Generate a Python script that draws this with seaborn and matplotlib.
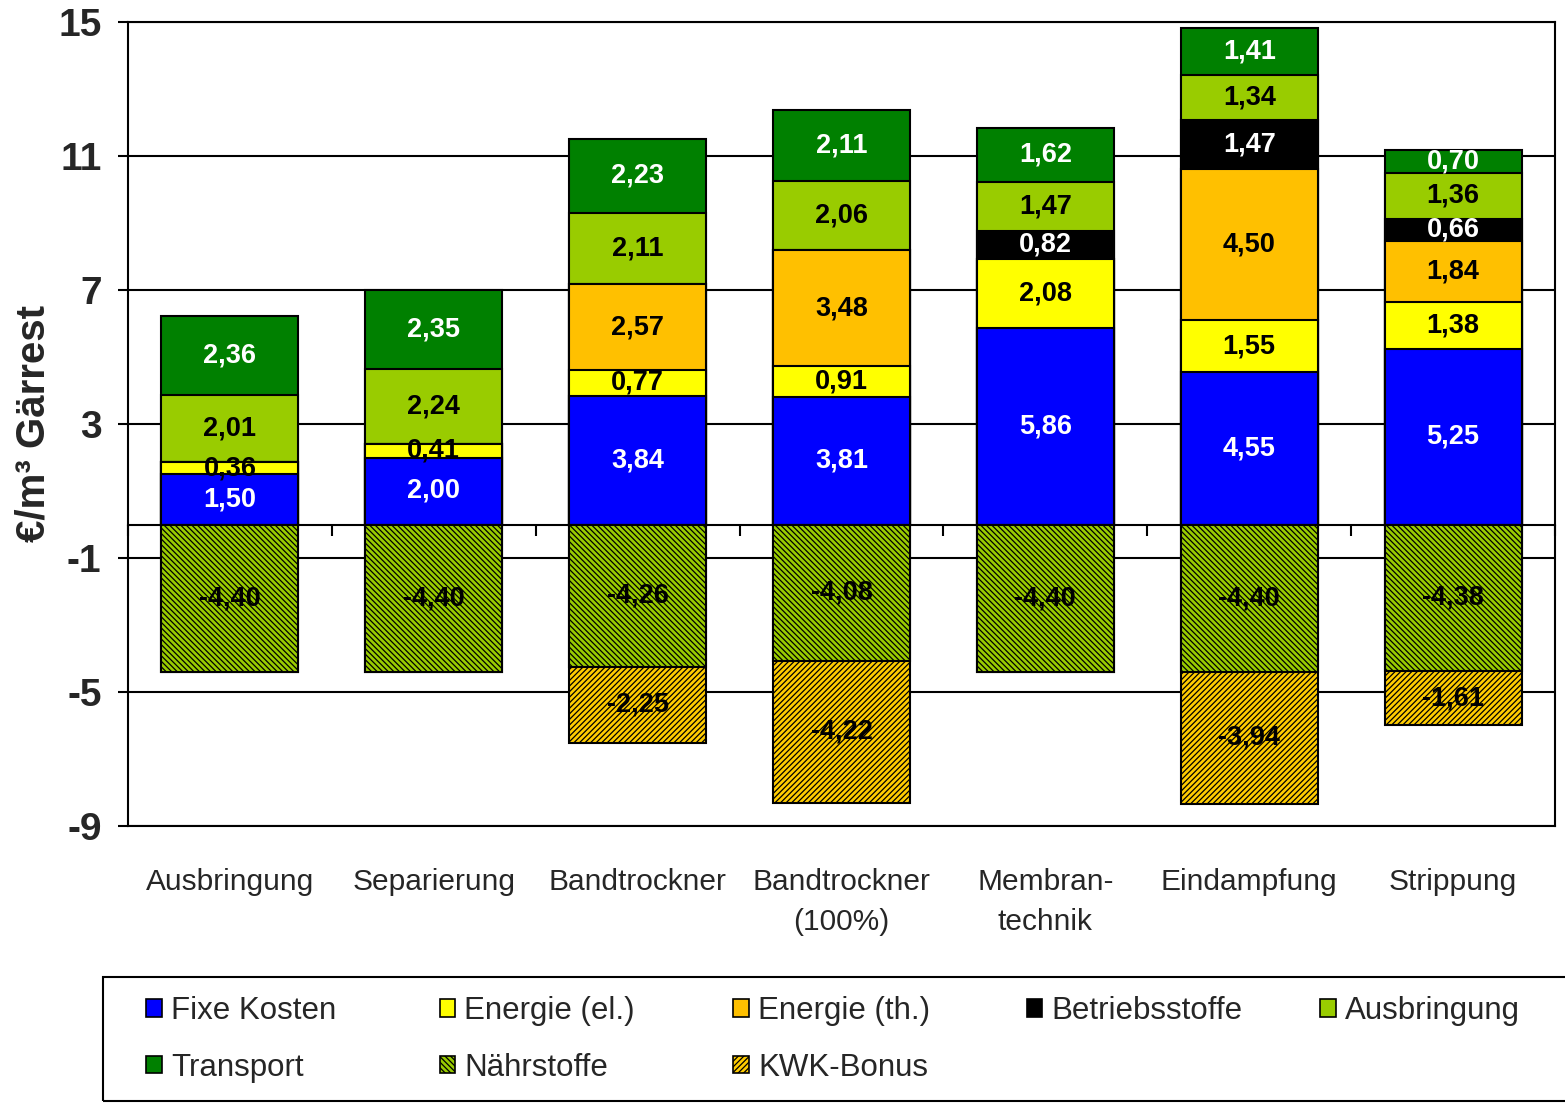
import numpy as np
import pandas as pd
import matplotlib
matplotlib.use("Agg")
import matplotlib.pyplot as plt
from matplotlib.patches import Patch, Rectangle
import seaborn as sns

# ---------------- data ----------------
categories = ["Ausbringung", "Separierung", "Bandtrockner", "Bandtrockner\n(100%)",
              "Membran-\ntechnik", "Eindampfung", "Strippung"]
fixe_kosten    = [1.50, 2.00, 3.84, 3.81, 5.86, 4.55, 5.25]
energie_el     = [0.36, 0.41, 0.77, 0.91, 2.08, 1.55, 1.38]
energie_th     = [0.00, 0.00, 2.57, 3.48, 0.00, 4.50, 1.84]
betriebsstoffe = [0.00, 0.00, 0.00, 0.00, 0.82, 1.47, 0.66]
ausbringung    = [2.01, 2.24, 2.11, 2.06, 1.47, 1.34, 1.36]
transport      = [2.36, 2.35, 2.23, 2.11, 1.62, 1.41, 0.70]
naehrstoffe    = [-4.40, -4.40, -4.26, -4.08, -4.40, -4.40, -4.38]
kwk_bonus      = [0.00, 0.00, -2.25, -4.22, 0.00, -3.94, -1.61]
yticks = [15, 11, 7, 3, -1, -5, -9]
ylabel = "€/m³ Gärrest"

# (name, values, face colour, hatch, label colour)
pos_series = [
    ("Fixe Kosten", fixe_kosten, "#0000FF", None, "white"),
    ("Energie (el.)", energie_el, "#FFFF00", None, "black"),
    ("Energie (th.)", energie_th, "#FFC000", None, "black"),
    ("Betriebsstoffe", betriebsstoffe, "#000000", None, "white"),
    ("Ausbringung", ausbringung, "#99CC00", None, "black"),
    ("Transport", transport, "#008000", None, "white"),
]
neg_series = [
    ("Nährstoffe", naehrstoffe, "#99CC00", "\\\\\\\\\\\\", "black"),
    ("KWK-Bonus", kwk_bonus, "#FFCC00", "//////", "black"),
]

# ---------------- style ----------------
sns.set_style("white")
plt.rcParams["font.family"] = ["Liberation Sans", "DejaVu Sans"]
plt.rcParams["hatch.linewidth"] = 0.9

W, H = 1565, 1103
fig = plt.figure(figsize=(W / 100, H / 100), dpi=100)
ax = fig.add_axes([128 / W, 1 - 826 / H, 1427 / W, 804 / H])

bar_w = 0.672
lw = 1.5

def draw_stack(series):
    vals = np.array([s[1] for s in series], dtype=float)
    cum = np.cumsum(vals, axis=0)
    # draw from the outermost cumulative level inward so each segment shows
    for k in range(len(series) - 1, -1, -1):
        name, v, col, hatch, _ = series[k]
        df = pd.DataFrame({"cat": categories, "val": cum[k]})
        sns.barplot(data=df, x="cat", y="val", order=categories, color=col,
                    saturation=1, width=bar_w, edgecolor="black", linewidth=lw,
                    hatch=hatch, ax=ax, errorbar=None, zorder=2)
    # labels
    for k, (name, v, col, hatch, tcol) in enumerate(series):
        for i, val in enumerate(v):
            if val == 0:
                continue
            base = cum[k][i] - val
            ax.text(i, base + val / 2, f"{val:.2f}".replace(".", ","),
                    ha="center", va="center", color=tcol, fontsize=19.5,
                    fontweight="bold", zorder=5)

draw_stack(pos_series)
draw_stack(neg_series)

# ---------------- axes ----------------
ax.set_ylim(-9, 15)
ax.set_xlim(-0.5, len(categories) - 0.5)
ax.set_yticks(yticks)
ax.set_yticklabels([str(t) for t in yticks], fontsize=28, fontweight="bold")
ax.tick_params(axis="y", length=7, width=lw, direction="out", color="black", pad=12, left=True)
ax.tick_params(axis="x", length=0, pad=30, labelsize=21.5)
for lab in ax.get_xticklabels():
    lab.set_linespacing(1.55)
ax.set_xlabel("")
ax.set_ylabel(ylabel, fontsize=29, fontweight="bold")
ax.yaxis.set_label_coords(-0.053, 0.5)
ax.yaxis.grid(True, color="black", linewidth=lw)
ax.set_axisbelow(True)
for sp in ax.spines.values():
    sp.set_visible(True)
    sp.set_color("black")
    sp.set_linewidth(lw)

# zero line with category-boundary ticks
zero_loc = (0 - (-9)) / (15 - (-9))
sec = ax.secondary_xaxis(zero_loc)
sec.set_xticks(np.arange(-0.5, len(categories), 1.0))
sec.set_xticklabels([])
sec.tick_params(axis="x", length=8, width=lw, direction="out", color="black")
sec.spines["bottom"].set_linewidth(lw)
sec.spines["bottom"].set_color("black")

# ---------------- legend (equal-width columns, row-major like the original) ----------------
all_series = pos_series + neg_series
handles = {s[0]: Patch(facecolor=s[2], edgecolor="black", hatch=s[3], linewidth=1.2)
           for s in all_series}
legend_columns = [["Fixe Kosten", "Transport"], ["Energie (el.)", "Nährstoffe"],
                  ["Energie (th.)", "KWK-Bonus"], ["Betriebsstoffe"], ["Ausbringung"]]
col_step = 293.5
for j, names in enumerate(legend_columns):
    lg = fig.legend([handles[n] for n in names], names, loc="upper left",
                    bbox_to_anchor=((146 + j * col_step) / W, 1 - 996 / H), ncol=1,
                    frameon=False, fontsize=22.5, handlelength=0.5, handleheight=0.5,
                    handletextpad=0.3, labelspacing=0.85, borderpad=0, borderaxespad=0)
fig.patches.append(Rectangle((103 / W, (H - 1101) / H), (W + 20 - 103) / W, (1101 - 977) / H,
                             transform=fig.transFigure, fill=False,
                             edgecolor="black", linewidth=lw))

fig.savefig("out.png", dpi=100)
